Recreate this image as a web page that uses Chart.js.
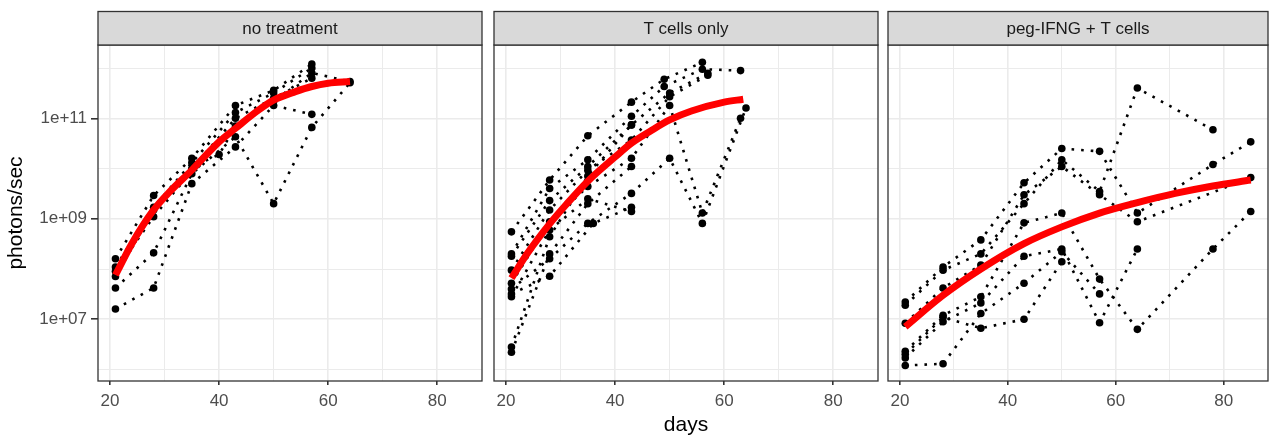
<!DOCTYPE html>
<html>
<head>
<meta charset="utf-8">
<script src="https://cdn.jsdelivr.net/npm/chart.js@4"></script>
<style>
html, body { margin: 0; padding: 0; background: #fff; }
#wrap { position: relative; width: 1272px; height: 440px; }
#wrap canvas { position: absolute; left: 0; top: 0; }
</style>
</head>
<body>
<div id="wrap">
  <canvas id="panel1" width="1272" height="440"></canvas>
  <canvas id="panel2" width="1272" height="440"></canvas>
  <canvas id="panel3" width="1272" height="440"></canvas>
</div>
<script>
// facet labels and axis ticks
const facetLabels = ['no treatment', 'T cells only', 'peg-IFNG + T cells'];
const dayTicks = [20, 30, 40, 50, 60, 70, 80];
const dayLabels = [20, 40, 60, 80];
const photonTicks = [1e6, 1e7, 1e8, 1e9, 1e10, 1e11, 1e12];
const photonLabels = [1e7, 1e9, 1e11];

// one list per mouse: [day, photons/sec]
const noTreatmentMice = [
  [[21, 1.6e8], [28, 2.9e9], [35, 1.6e10], [43, 1.8e11], [50, 3.6e11], [57, 1.2e12]],
  [[21, 1.1e8], [28, 1.7e9], [35, 1.3e10], [43, 1.3e11], [50, 3.2e11], [57, 1.0e12]],
  [[21, 7.1e7], [28, 1.5e9], [35, 1.0e10], [43, 1.0e11], [50, 2.5e11], [57, 6.3e11]],
  [[21, 4.2e7], [28, 2.1e8], [35, 7.9e9], [43, 4.3e10], [50, 2.0e9], [57, 6.6e10], [64, 5.1e11]],
  [[21, 1.6e7], [28, 4.2e7], [35, 5.0e9], [43, 2.7e10], [50, 1.8e11], [57, 1.2e11]],
  [[21, 9.0e7], [28, 1.1e9], [36, 1.2e10], [40, 1.9e10], [43, 7.0e10], [50, 2.2e11], [57, 8.0e11], [64, 5.4e11]]
];
const noTreatmentFitDays = [21, 24, 28, 31, 35, 40, 43, 47, 50, 54, 57, 60, 64];
const noTreatmentFit = [7.6e7, 3.2e8, 1.5e9, 3.5e9, 9.3e9, 3.4e10, 6.3e10, 1.4e11, 2.3e11, 3.4e11, 4.3e11, 5.0e11, 5.4e11];

const tCellMice = [
  [[21, 5.5e8], [28, 5.9e9], [35, 4.5e10], [43, 2.1e11], [49, 6.0e11], [56, 1.3e12]],
  [[21, 2.0e8], [28, 4.0e9], [35, 1.5e10], [43, 1.1e11], [49, 4.3e11], [56, 9.5e11], [63, 8.9e11]],
  [[21, 1.8e8], [28, 2.3e9], [35, 1.1e10], [43, 7.4e10], [50, 3.2e11], [57, 7.9e11]],
  [[21, 9.5e7], [28, 1.5e9], [35, 9.3e9], [43, 3.7e10], [50, 2.7e11], [57, 7.2e11]],
  [[21, 5.2e7], [28, 8.7e8], [35, 4.4e9], [43, 1.6e10], [50, 1.8e11], [56, 1.3e9], [63, 1.0e11]],
  [[21, 4.0e7], [28, 1.6e8], [35, 8.1e8], [43, 3.2e9], [50, 1.6e10], [56, 8.1e8], [64, 1.6e11]],
  [[21, 3.2e7], [28, 7.2e7], [36, 8.1e8], [43, 1.7e9]],
  [[21, 2.8e7], [28, 6.0e8], [35, 2.5e9], [43, 1.4e9]],
  [[21, 2.8e6], [28, 4.4e8], [35, 7.1e9], [43, 7.4e10]],
  [[21, 2.2e6], [28, 2.0e8], [35, 2.0e9], [43, 1.1e10]]
];
const tCellFitDays = [21, 24, 28, 31, 35, 40, 43, 46.5, 50, 54, 60, 63.5];
const tCellFit = [6.6e7, 2.1e8, 7.9e8, 1.9e9, 5.6e9, 1.7e10, 3.2e10, 5.6e10, 9.3e10, 1.4e11, 2.1e11, 2.4e11];

const pegMice = [
  [[21, 2.2e7], [28, 1.1e8], [35, 3.8e8], [43, 5.2e9], [50, 2.5e10], [57, 2.2e10], [64, 1.3e9], [78, 1.2e10], [85, 3.4e10]],
  [[21, 1.9e7], [28, 9.5e7], [35, 2.0e8], [43, 2.0e9], [50, 1.5e10], [57, 3.5e9], [64, 4.0e11], [78, 5.9e10]],
  [[21, 8.3e6], [28, 4.2e7], [35, 1.2e8], [43, 3.0e9], [50, 1.1e10], [57, 3.0e9], [64, 8.7e8], [85, 6.6e9]],
  [[21, 2.3e6], [28, 1.2e7], [35, 2.8e7], [43, 8.3e8], [50, 1.3e9], [57, 6.3e7], [64, 6.3e6], [78, 2.5e8], [85, 1.4e9]],
  [[21, 1.7e6], [28, 8.9e6], [35, 2.1e7], [43, 1.8e8], [50, 2.5e8], [57, 8.5e6], [64, 2.5e8]],
  [[21, 1.2e6], [28, 1.3e6], [35, 1.3e7], [43, 5.2e7], [50, 2.2e8], [57, 3.2e7]],
  [[21, 2.0e6], [28, 1.1e7], [35, 6.6e6], [43, 1.0e7], [50, 1.4e8]]
];
const pegFitDays = [21, 28, 35, 43, 50, 57, 64, 71, 78, 85];
const pegFit = [7.1e6, 3.0e7, 1.0e8, 3.2e8, 6.9e8, 1.3e9, 2.1e9, 3.2e9, 4.5e9, 5.9e9];

const FONT = '"Liberation Sans", Arial, sans-serif';

function expLabel(v) {
  const e = Math.round(Math.log10(v));
  return '1e+' + String(e).padStart(2, '0');
}

// panel frame + grey strip on top, ggplot facet style
const facetFrame = {
  id: 'facetFrame',
  afterDraw(chart, args, opts) {
    const { ctx, chartArea: a } = chart;
    const stripTop = 11.5;
    ctx.save();
    ctx.lineWidth = 1.3;
    ctx.strokeStyle = '#333333';
    ctx.strokeRect(a.left, a.top, a.right - a.left, a.bottom - a.top);
    ctx.fillStyle = '#D9D9D9';
    ctx.fillRect(a.left, stripTop, a.right - a.left, a.top - stripTop);
    ctx.strokeRect(a.left, stripTop, a.right - a.left, a.top - stripTop);
    ctx.fillStyle = '#1A1A1A';
    ctx.font = '17px ' + FONT;
    ctx.textAlign = 'center';
    ctx.textBaseline = 'middle';
    ctx.fillText(opts.label, (a.left + a.right) / 2, (stripTop + a.top) / 2 + 1);
    ctx.restore();
  }
};

const panels = [
  { canvas: 'panel1', label: facetLabels[0], mice: noTreatmentMice, fitDays: noTreatmentFitDays, fit: noTreatmentFit, left: 98, right: 482, first: true },
  { canvas: 'panel2', label: facetLabels[1], mice: tCellMice, fitDays: tCellFitDays, fit: tCellFit, left: 494, right: 878, middle: true },
  { canvas: 'panel3', label: facetLabels[2], mice: pegMice, fitDays: pegFitDays, fit: pegFit, left: 888, right: 1271 }
];

panels.forEach(p => {
  const datasets = [{
    data: p.fitDays.map((d, i) => ({ x: d, y: p.fit[i] })),
    showLine: true,
    borderColor: '#FF0000',
    borderWidth: 7,
    pointRadius: 0,
    cubicInterpolationMode: 'monotone',
    order: 0
  }];
  p.mice.forEach(m => {
    datasets.push({
      data: m.map(pt => ({ x: pt[0], y: pt[1] })),
      showLine: true,
      borderColor: '#000000',
      borderWidth: 2.6,
      borderDash: [2.6, 7],
      pointRadius: 3.8,
      pointBackgroundColor: '#000000',
      pointBorderWidth: 0,
      order: 1
    });
  });

  new Chart(document.getElementById(p.canvas), {
    type: 'scatter',
    data: { datasets },
    options: {
      responsive: false,
      animation: false,
      devicePixelRatio: 1,
      events: [],
      layout: { padding: { left: p.first ? 0 : p.left, right: 1272 - p.right, top: 45, bottom: 0 } },
      plugins: {
        legend: { display: false },
        tooltip: { enabled: false },
        facetFrame: { label: p.label }
      },
      scales: {
        x: {
          type: 'linear',
          min: 17.8,
          max: 88.2,
          afterBuildTicks: s => { s.ticks = dayTicks.map(v => ({ value: v })); },
          afterFit: s => { s.height = 59; },
          border: { display: false },
          grid: {
            color: '#EBEBEB',
            lineWidth: c => dayLabels.includes(c.tick.value) ? 1.6 : 1,
            tickLength: 4,
            tickColor: c => dayLabels.includes(c.tick.value) ? '#333333' : 'rgba(0,0,0,0)'
          },
          ticks: {
            autoSkip: false,
            maxRotation: 0,
            padding: 6,
            color: '#4D4D4D',
            font: { family: FONT, size: 17 },
            callback: v => dayLabels.includes(v) ? String(v) : ''
          },
          title: {
            display: !!p.middle,
            text: 'days',
            color: '#000000',
            font: { family: FONT, size: 21 },
            padding: { top: 0, bottom: 2 }
          }
        },
        y: {
          type: 'logarithmic',
          min: 5.9e5,
          max: 2.88e12,
          afterBuildTicks: s => { s.ticks = photonTicks.map(v => ({ value: v })); },
          afterFit: s => { s.width = p.first ? p.left : 0; },
          border: { display: false },
          grid: {
            color: '#EBEBEB',
            lineWidth: c => photonLabels.includes(c.tick.value) ? 1.6 : 1,
            drawTicks: !!p.first,
            tickLength: 7,
            tickColor: c => photonLabels.includes(c.tick.value) ? '#333333' : 'rgba(0,0,0,0)'
          },
          ticks: {
            display: !!p.first,
            autoSkip: false,
            padding: 4,
            color: '#4D4D4D',
            font: { family: FONT, size: 17 },
            callback: v => photonLabels.includes(v) ? expLabel(v) : ''
          },
          title: {
            display: !!p.first,
            text: 'photons/sec',
            color: '#000000',
            font: { family: FONT, size: 21 },
            padding: { top: 4, bottom: 0 }
          }
        }
      }
    },
    plugins: [facetFrame]
  });
});
</script>
</body>
</html>
